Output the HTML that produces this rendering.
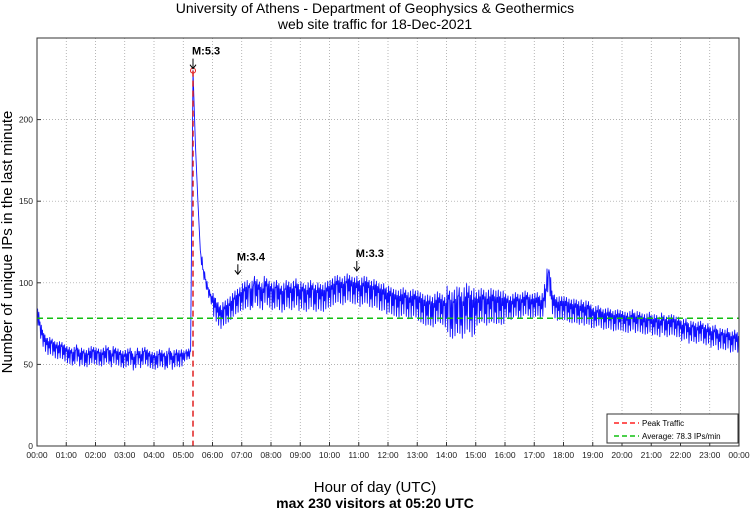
<!DOCTYPE html>
<html><head><meta charset="utf-8">
<style>
html,body{margin:0;padding:0;background:#fff;}
svg{display:block;font-family:"Liberation Sans",Arial,sans-serif;}
</style></head>
<body>
<svg id="chart" width="750" height="511" viewBox="0 0 750 511">
  <text x="375" y="13" text-anchor="middle" font-size="14">University of Athens - Department of Geophysics &amp; Geothermics</text>
  <text x="375" y="29" text-anchor="middle" font-size="14">web site traffic for 18-Dec-2021</text>
  <g id="grid"></g>
  <g id="ticks"></g>
  <g id="marks"></g>
  <rect x="37" y="38" width="702" height="408" fill="none" stroke="#333" stroke-width="1"/>
  <text transform="translate(12,242) rotate(-90)" text-anchor="middle" font-size="15">Number of unique IPs in the last minute</text>
  <text x="375" y="492" text-anchor="middle" font-size="15">Hour of day (UTC)</text>
  <text x="375" y="508" text-anchor="middle" font-size="14" font-weight="bold">max 230 visitors at 05:20 UTC</text>
  <g>
    <rect x="607" y="414" width="131" height="29" fill="#fff" stroke="#333" stroke-width="1"/>
    <line x1="614" y1="423" x2="639" y2="423" stroke="#ff2020" stroke-width="1.5" stroke-dasharray="5,3"/>
    <text x="642" y="426" font-size="8">Peak Traffic</text>
    <line x1="614" y1="436" x2="639" y2="436" stroke="#10c010" stroke-width="1.5" stroke-dasharray="5,3"/>
    <text x="642" y="439" font-size="8">Average: 78.3 IPs/min</text>
  </g>
</svg>
<script>
const hourLabels=["00:00","01:00","02:00","03:00","04:00","05:00","06:00","07:00","08:00","09:00","10:00","11:00","12:00","13:00","14:00","15:00","16:00","17:00","18:00","19:00","20:00","21:00","22:00","23:00","00:00"];
const yTicks=[0,50,100,150,200];
const stepMinutes=5;
const traffic=[
84,74,68,64,62,60,63,58,60,57,61,56,
58,54,57,52,59,55,53,57,51,56,54,58,
53,57,52,56,54,59,52,55,57,53,56,51,
55,52,57,53,50,56,54,52,58,53,55,51,
54,50,56,52,55,49,57,53,51,56,52,55,
53,57,55,58,230,185,150,120,108,102,96,92,
88,85,82,80,78,84,80,86,83,90,86,92,
88,95,90,97,86,100,92,96,89,94,98,91,
95,88,97,90,93,87,96,91,94,89,97,92,
90,95,88,93,91,96,87,94,90,92,89,95,
91,96,93,99,94,97,92,100,95,98,93,97,
95,92,98,94,97,90,96,92,94,89,93,90,
88,92,86,90,85,89,87,91,84,88,86,90,
84,88,82,86,80,87,79,85,83,88,81,86,
78,90,72,88,75,92,74,86,80,91,77,85,
80,88,83,90,81,87,84,89,82,88,83,86,
84,88,82,87,85,89,83,88,86,90,84,87,
85,88,86,84,89,95,108,90,86,85,83,86,
83,86,82,84,81,85,80,83,82,80,84,79,
80,77,82,78,79,76,80,77,78,75,79,76,
78,75,77,74,79,76,75,78,74,76,73,77,
75,73,76,72,74,77,71,75,73,76,72,74,
72,69,74,70,68,73,67,71,69,72,66,70,
68,65,70,66,64,68,63,67,65,62,66,64,63];
// per-hour noise half-amplitude (minute-to-minute jitter)
const hourlyJitter=[5,5,5,5,5,3,7,8,8,8,8,8,8,9,14,10,7,7,7,6,6,6,6,6];
const averageValue=78.3;
const peakMinute=320;
const peakValue=230;
const quakeLabels=["M:5.3","M:3.4","M:3.3"];
const quakeMinutes=[320,412,656];
const quakeArrowValues=[230,104,106];

const NS="http://www.w3.org/2000/svg";
const X0=37,X1=739,Y0=446,Y1=38,YMAX=250;
const xs=m=>X0+(X1-X0)*m/1440;
const ys=v=>Y0-(Y0-Y1)*v/YMAX;
function mk(tag,attrs,parent,txt){const e=document.createElementNS(NS,tag);for(const k in attrs)e.setAttribute(k,attrs[k]);if(txt!==undefined)e.textContent=txt;parent.appendChild(e);return e;}
const grid=document.getElementById('grid'),ticks=document.getElementById('ticks'),marks=document.getElementById('marks');

hourLabels.forEach((lab,i)=>{
  const x=xs(i*60);
  if(i>0&&i<24){const l=mk('line',{x1:x,y1:Y1,x2:x,y2:Y0,stroke:'#999','stroke-width':0.7,'stroke-dasharray':'1,2'},grid);
  
  }
  const t=mk('text',{x:x,y:458,'text-anchor':'middle','font-size':8.5,fill:'#222'},ticks,lab);
  
  
  mk('line',{x1:x,y1:Y0,x2:x,y2:Y0-4,stroke:'#333'},ticks);
});
yTicks.forEach(v=>{
  const y=ys(v);
  if(v>0){const l=mk('line',{x1:X0,y1:y,x2:X1,y2:y,stroke:'#999','stroke-width':0.7,'stroke-dasharray':'1,2'},grid);
  
  }
  const t=mk('text',{x:X0-4,y:y+3,'text-anchor':'end','font-size':8.5,fill:'#222'},ticks,String(v));
  
  
  mk('line',{x1:X0,y1:y,x2:X0+4,y2:y,stroke:'#333'},ticks);
});

const pp=[];
traffic.forEach((v,i)=>{
  const m=i*stepMinutes;
  pp.push(xs(m).toFixed(1)+','+ys(v).toFixed(1));
  if(i<traffic.length-1){
    const j=hourlyJitter[Math.min(23,Math.floor(m/60))];
    const nv=traffic[i+1];
    const mid=(v+nv)/2;
    if(Math.abs(nv-v)<30){
      pp.push(xs(m+1.25).toFixed(1)+','+ys(mid+j).toFixed(1));
      pp.push(xs(m+2.5).toFixed(1)+','+ys(mid-j).toFixed(1));
      pp.push(xs(m+3.75).toFixed(1)+','+ys(mid+j*0.6).toFixed(1));
    }
  }
});
const line=mk('polyline',{points:pp.join(' '),fill:'none',stroke:'#1010ff','stroke-width':0.9,'stroke-linejoin':'round'},marks);



const avg=mk('line',{x1:X0,y1:ys(averageValue),x2:X1,y2:ys(averageValue),stroke:'#10c010','stroke-width':1.5,'stroke-dasharray':'6,4'},marks);



const pk=mk('line',{x1:xs(peakMinute),y1:ys(peakValue),x2:xs(peakMinute),y2:Y0,stroke:'#e02020','stroke-width':1.5,'stroke-dasharray':'6,4'},marks);


const pc=mk('circle',{cx:xs(peakMinute),cy:ys(peakValue),r:2.5,fill:'none',stroke:'#e02020','stroke-width':1},marks);



quakeLabels.forEach((lab,i)=>{
  const x=xs(quakeMinutes[i]),yb=ys(quakeArrowValues[i])-2;
  const g=mk('g',{},marks);
  
  
  mk('line',{x1:x,y1:yb-10,x2:x,y2:yb,stroke:'#000','stroke-width':1},g);
  mk('path',{d:`M${x-3},${yb-4} L${x},${yb} L${x+3},${yb-4}`,fill:'none',stroke:'#000','stroke-width':1},g);
  mk('text',{x:x-1,y:yb-14,'font-size':11,'font-weight':'bold'},g,lab);
});
</script>
</body></html>
